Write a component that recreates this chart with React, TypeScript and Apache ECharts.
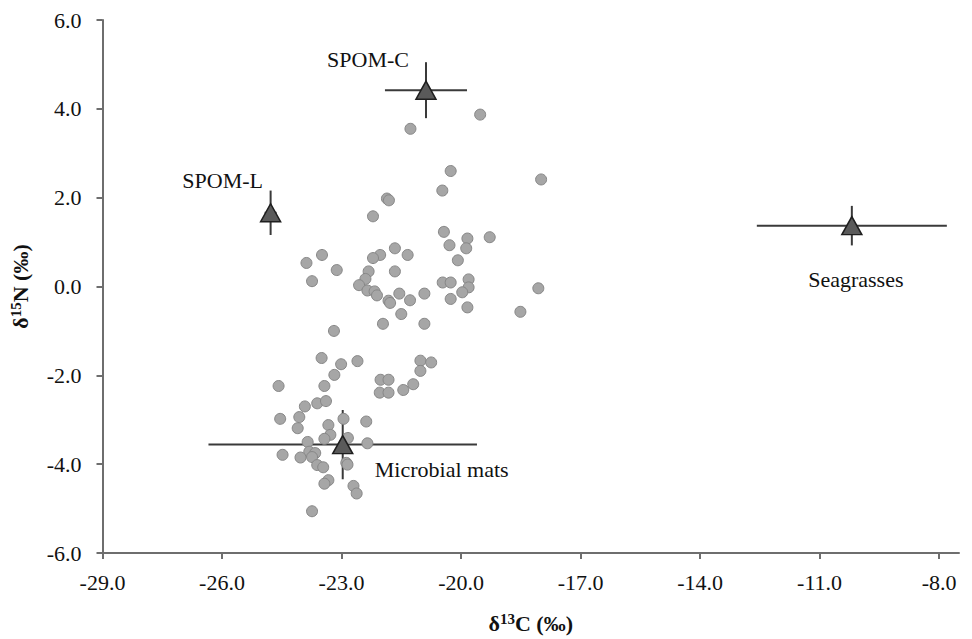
import React, { useEffect, useRef } from "react";
import * as echarts from "echarts";

// Consumer samples (δ13C, δ15N)
const consumerX = [
  -21.27, -19.52, -20.26, -17.99, -20.47, -21.86, -21.81, -22.21, -20.43, -19.84,
  -19.28, -20.29, -19.87, -21.66, -23.49, -23.88, -22.03, -22.21, -21.34, -20.08,
  -23.12, -23.74, -22.32, -21.66, -22.40, -22.56, -20.46, -20.26, -19.81, -19.81,
  -19.97, -18.06, -22.35, -22.17, -22.11, -21.55, -20.92, -21.82, -21.78, -21.28,
  -20.26, -19.84, -18.51, -21.50, -21.96, -20.92, -23.19, -23.50, -23.01, -22.60,
  -23.18, -24.58, -23.43, -21.02, -20.75, -21.02, -21.20, -21.45, -22.02, -21.82,
  -22.04, -21.82, -23.92, -23.61, -23.39, -24.54, -24.06, -22.95, -22.38, -23.33,
  -24.10, -23.28, -23.43, -22.84, -23.85, -22.35, -24.48, -23.81, -23.66, -24.03,
  -23.74, -23.61, -23.46, -22.88, -22.85, -23.33, -23.43, -22.70, -22.62, -23.74,
];
const consumerY = [
  3.55, 3.87, 2.6, 2.41, 2.16, 1.98, 1.94, 1.58, 1.23, 1.08,
  1.11, 0.93, 0.86, 0.86, 0.71, 0.53, 0.71, 0.64, 0.71, 0.59,
  0.37, 0.12, 0.34, 0.34, 0.17, 0.03, 0.09, 0.09, 0.16, -0.02,
  -0.13, -0.04, -0.09, -0.11, -0.2, -0.16, -0.16, -0.32, -0.37, -0.31,
  -0.28, -0.47, -0.57, -0.62, -0.84, -0.84, -1.0, -1.61, -1.75, -1.68,
  -1.99, -2.24, -2.24, -1.67, -1.71, -1.9, -2.2, -2.33, -2.1, -2.1,
  -2.39, -2.39, -2.7, -2.63, -2.58, -2.98, -2.94, -2.98, -3.04, -3.12,
  -3.19, -3.34, -3.43, -3.41, -3.5, -3.53, -3.79, -3.72, -3.75, -3.85,
  -3.84, -4.02, -4.07, -3.97, -4.01, -4.36, -4.44, -4.49, -4.66, -5.06,
];

// Sources: mean ± SD
const sourceNames = ["SPOM-C", "SPOM-L", "Seagrasses", "Microbial mats"];
const sourceX = [-20.88, -24.78, -10.19, -22.97];
const sourceY = [4.42, 1.66, 1.37, -3.56];
const sourceXErr = [1.03, 0.15, 2.385, 3.37];
const sourceYErr = [0.63, 0.5, 0.445, 0.78];

const xTicks = [-29, -26, -23, -20, -17, -14, -11, -8];
const yTicks = [-6, -4, -2, 0, 2, 4, 6];

const labelOffsets: [number, number][] = [
  [-58, -31],
  [-48, -32],
  [4, 54],
  [99, 25],
];

const FONT = "Liberation Serif";

export default function App() {
  const ref = useRef<HTMLDivElement>(null);

  useEffect(() => {
    if (!ref.current) return;
    const chart = echarts.init(ref.current, null, { renderer: "svg" });

    const consumers = consumerX.map((x, i) => [x, consumerY[i]]);
    const errData = sourceX.map((x, i) => [x, sourceY[i], sourceXErr[i], sourceYErr[i]]);
    const srcData = sourceX.map((x, i) => ({
      value: [x, sourceY[i]],
      name: sourceNames[i],
      label: {
        show: true,
        position: "inside",
        offset: labelOffsets[i],
        formatter: sourceNames[i],
        fontFamily: FONT,
        fontSize: 22,
        color: "#111",
      },
    }));

    const axisColor = "#6e6e6e";
    const nameRich = {
      a: { fontFamily: FONT, fontSize: 22, fontWeight: "bold", color: "#111", lineHeight: 24 },
      s: { fontFamily: FONT, fontSize: 15, fontWeight: "bold", color: "#111", verticalAlign: "top", lineHeight: 24, padding: [0, 0, 8, 0] },
    };

    chart.setOption({
      animation: false,
      backgroundColor: "#ffffff",
      textStyle: { fontFamily: FONT },
      grid: { left: 102.5, right: 13, top: 20, bottom: 80, containLabel: false },
      xAxis: {
        type: "value",
        min: -29,
        max: -7.5,
        name: "{a|δ}{s|13}{a|C (‰)}",
        nameLocation: "middle",
        nameGap: 58,
        nameTextStyle: { fontFamily: FONT, rich: nameRich },
        axisLine: { show: true, onZero: false, lineStyle: { color: axisColor, width: 2 } },
        axisTick: { show: true, customValues: xTicks, length: 6, lineStyle: { color: axisColor, width: 2 } },
        axisLabel: {
          customValues: xTicks,
          formatter: (v: number) => v.toFixed(1),
          fontFamily: FONT,
          fontSize: 22,
          color: "#111",
          margin: 18,
        },
        splitLine: { show: false },
      },
      yAxis: {
        type: "value",
        min: -6,
        max: 6,
        interval: 2,
        name: "{a|δ}{s|15}{a|N (‰)}",
        nameLocation: "middle",
        nameRotate: 90,
        nameGap: 70,
        nameTextStyle: { fontFamily: FONT, rich: nameRich },
        axisLine: { show: true, onZero: false, lineStyle: { color: axisColor, width: 2 } },
        axisTick: { show: true, length: 6, lineStyle: { color: axisColor, width: 2 } },
        axisLabel: {
          customValues: yTicks,
          formatter: (v: number) => v.toFixed(1),
          fontFamily: FONT,
          fontSize: 22,
          color: "#111",
          margin: 21,
        },
        splitLine: { show: false },
      },
      series: [
        {
          type: "custom",
          name: "errors",
          clip: false,
          data: errData,
          z: 2,
          renderItem: (params: any, api: any) => {
            const x = api.value(0);
            const y = api.value(1);
            const ex = api.value(2);
            const ey = api.value(3);
            const l = api.coord([x - ex, y]);
            const r = api.coord([x + ex, y]);
            const t = api.coord([x, y + ey]);
            const b = api.coord([x, y - ey]);
            const style = { stroke: "#3a3a3a", lineWidth: 2 };
            return {
              type: "group",
              children: [
                { type: "line", shape: { x1: l[0], y1: l[1], x2: r[0], y2: r[1] }, style },
                { type: "line", shape: { x1: t[0], y1: t[1], x2: b[0], y2: b[1] }, style },
              ],
            };
          },
        },
        {
          type: "scatter",
          name: "consumers",
          data: consumers,
          symbol: "circle",
          symbolSize: 11,
          z: 3,
          itemStyle: { color: "#a6a6a6", borderColor: "#878787", borderWidth: 1, opacity: 1 },
        },
        {
          type: "scatter",
          name: "sources",
          data: srcData,
          symbol: "triangle",
          symbolSize: [20, 18],
          z: 4,
          itemStyle: { color: "#5a5a5a", borderColor: "#1e1e1e", borderWidth: 1.5, opacity: 1 },
        },
      ],
    });

    return () => chart.dispose();
  }, []);

  return (
    <div
      ref={ref}
      style={{ position: "absolute", left: 0, top: 0, width: 972, height: 639 }}
    />
  );
}
